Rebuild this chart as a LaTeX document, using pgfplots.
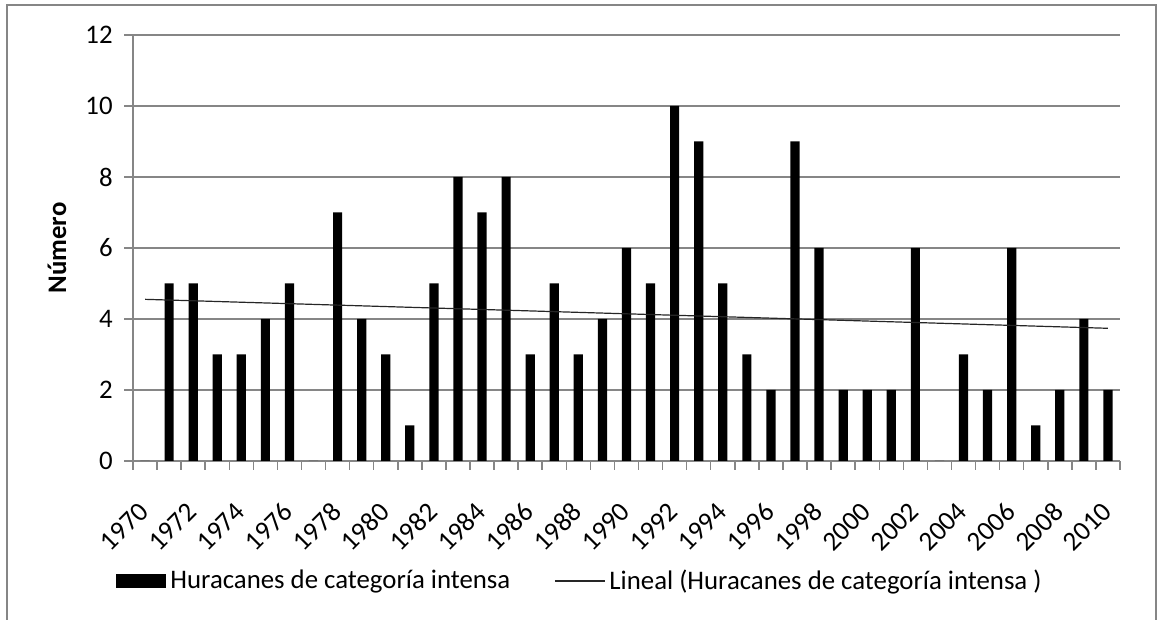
\documentclass[border=0pt]{standalone}
\usepackage{pgfplots}
\pgfplotsset{compat=1.18}
\usepackage{fontspec}
\setmainfont{Carlito}
\definecolor{gridgray}{RGB}{134,134,134}
\newcommand{\chartfont}{\fontsize{13.4}{16}\selectfont}
\newcommand{\xfont}{\fontsize{13.6}{16}\selectfont}
\begin{document}
\begin{tikzpicture}
\begin{axis}[
  at={(0,0)}, anchor=south west,
  scale only axis, width=493.5pt, height=213pt,
  xmin=1969.5, xmax=2010.5, ymin=0, ymax=12,
  axis lines=left, axis line style={-, gridgray, line width=0.75pt},
  ytick={0,2,...,12},
  xtick={1970,1972,...,2010},
  xticklabels={1970,1972,1974,1976,1978,1980,1982,1984,1986,1988,1990,1992,1994,1996,1998,2000,2002,2004,2006,2008,2010},
  minor xtick={1969.5,1970.5,...,2010.5},
  major x tick style={draw=none},
  tick align=outside,
  major tick length=4.5pt, minor tick length=4.5pt,
  tick style={gridgray, line width=0.75pt},
  ymajorgrids, grid style={gridgray, line width=0.75pt},
  /pgf/number format/assume math mode=true,
  tick label style={font=\chartfont, black},
  xticklabel style={font=\xfont, yshift=-18.5pt, xshift=-0.5pt, rotate=45, anchor=east, inner sep=0pt},
  yticklabel style={inner sep=0pt, xshift=-5.5pt},
  ylabel={\textbf{Número}},
  ylabel style={at={(axis description cs:-0.077,0.5)}, anchor=center, font=\chartfont},
  legend columns=2,
  legend style={at={(axis description cs:-0.0172,-0.2817)}, anchor=west, draw=none, fill=none,
    inner sep=0pt, font=\chartfont, nodes={inner sep=2pt},
    /tikz/every even column/.append style={column sep=20pt}},
]
\addplot[ybar, bar width=4.6pt, fill=black, draw=none,
  legend image code/.code={\fill[black] (0pt,-3.5pt) rectangle (25pt,3.5pt);}]
coordinates {
(1970,0) (1971,5) (1972,5) (1973,3) (1974,3) (1975,4) (1976,5) (1977,0) (1978,7) (1979,4)
(1980,3) (1981,1) (1982,5) (1983,8) (1984,7) (1985,8) (1986,3) (1987,5) (1988,3) (1989,4)
(1990,6) (1991,5) (1992,10) (1993,9) (1994,5) (1995,3) (1996,2) (1997,9) (1998,6) (1999,2)
(2000,2) (2001,2) (2002,6) (2003,0) (2004,3) (2005,2) (2006,6) (2007,1) (2008,2) (2009,4)
(2010,2)
};
\addlegendentry{Huracanes de categoría intensa}
\addplot[black!85, line width=0.6pt, mark=none,
  legend image code/.code={\draw[black!85, line width=0.6pt] (0pt,0pt) -- (25pt,0pt);}]
coordinates {(1970,4.554) (2010,3.738)};
\addlegendentry{Lineal (Huracanes de categoría intensa )}
\end{axis}
\draw[gridgray, line width=1.15pt] (-63pt,-82pt) -- (-63pt,228pt) -- (511.5pt,228pt) -- (511.5pt,-82pt);
\pgfresetboundingbox
\useasboundingbox (-66.5pt,-79.5pt) rectangle (512pt,230.5pt);
\end{tikzpicture}
\end{document}
